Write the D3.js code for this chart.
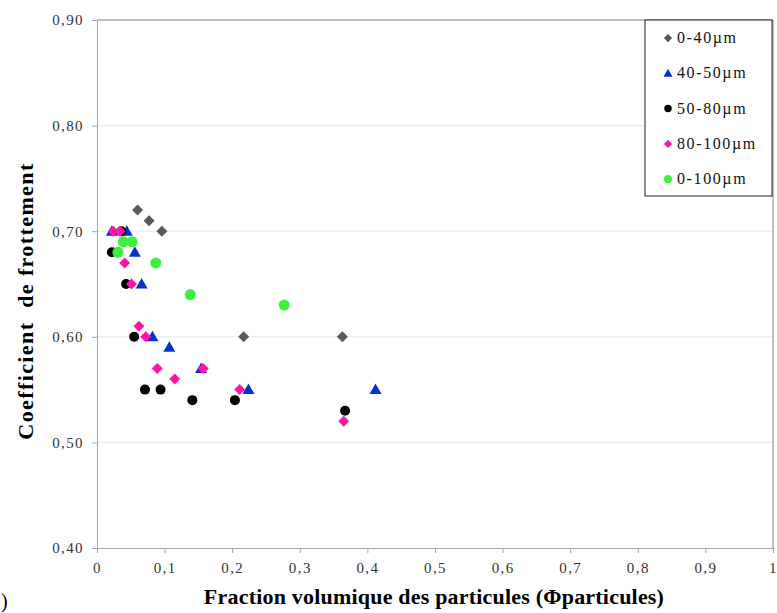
<!DOCTYPE html>
<html>
<head>
<meta charset="utf-8">
<script src="https://cdn.jsdelivr.net/npm/d3@7"></script>
<style>
  body { margin: 0; background: #fff; }
  svg text { font-family: 'Liberation Serif', 'Times New Roman', serif; }
</style>
</head>
<body>
<svg id="chart"></svg>
<script>
// series (x = fraction volumique, y = coefficient de frottement)
const names = ["0-40µm", "40-50µm", "50-80µm", "80-100µm", "0-100µm"];

const x040 = [0.060, 0.077, 0.096, 0.217, 0.363];
const y040 = [0.72, 0.71, 0.70, 0.60, 0.60];

const x4050 = [0.022, 0.044, 0.056, 0.066, 0.082, 0.107, 0.154, 0.224, 0.412];
const y4050 = [0.70, 0.70, 0.68, 0.65, 0.60, 0.59, 0.57, 0.55, 0.55];

const x5080 = [0.022, 0.036, 0.043, 0.055, 0.071, 0.094, 0.141, 0.204, 0.367];
const y5080 = [0.68, 0.70, 0.65, 0.60, 0.55, 0.55, 0.54, 0.54, 0.53];

const x80100 = [0.024, 0.034, 0.041, 0.051, 0.062, 0.072, 0.089, 0.115, 0.157, 0.211, 0.365];
const y80100 = [0.70, 0.70, 0.67, 0.65, 0.61, 0.60, 0.57, 0.56, 0.57, 0.55, 0.52];

const x0100 = [0.031, 0.039, 0.052, 0.087, 0.138, 0.277];
const y0100 = [0.68, 0.69, 0.69, 0.67, 0.64, 0.63];

const xTicks = [0, 0.1, 0.2, 0.3, 0.4, 0.5, 0.6, 0.7, 0.8, 0.9, 1];
const yTicks = [0.4, 0.5, 0.6, 0.7, 0.8, 0.9];

const W = 777, H = 613;
const serif = "'Liberation Serif', 'Times New Roman', serif";
const svg = d3.select("#chart").attr("width", W).attr("height", H);

const x = d3.scaleLinear().domain([0, 1]).range([97, 773]);
const y = d3.scaleLinear().domain([0.4, 0.9]).range([548, 20]);

const comma = d => d3.format(".2f")(d).replace(".", ",");
const commaX = d => (d === 0 || d === 1) ? String(d) : String(d).replace(".", ",");

// gridlines
svg.append("g")
    .selectAll("line")
    .data(yTicks.slice(1, -1))
    .enter()
    .append("line")
    .attr("x1", x(0)).attr("x2", x(1))
    .attr("y1", d => y(d)).attr("y2", d => y(d))
    .attr("stroke", "#e8e8e8");

// plot frame (top, right)
svg.append("path")
    .attr("d", `M${x(0)},${y(0.9)}H${x(1)}V${y(0.4)}`)
    .attr("fill", "none")
    .attr("stroke", "#7f7f7f");

// axes
const xAxis = svg.append("g")
    .attr("transform", `translate(0,${y(0.4)})`)
    .call(d3.axisBottom(x).tickValues(xTicks).tickFormat(commaX).tickSize(5).tickSizeOuter(0));
const yAxis = svg.append("g")
    .attr("transform", `translate(${x(0)},0)`)
    .call(d3.axisLeft(y).tickValues(yTicks).tickFormat(comma).tickSize(5).tickSizeOuter(0));

[xAxis, yAxis].forEach(a => {
    a.attr("font-family", serif).attr("font-size", 15);
    a.select(".domain").attr("stroke", "#a6a6a6");
    a.selectAll(".tick line").attr("stroke", "#a6a6a6");
    a.selectAll(".tick text")
        .attr("fill", "#333")
        .attr("letter-spacing", "1.4px");
});
xAxis.selectAll(".tick text").attr("dy", "0").attr("y", 25);
yAxis.selectAll(".tick text").attr("x", -13);

// axis titles
svg.append("text")
    .attr("x", 434)
    .attr("y", 604)
    .attr("text-anchor", "middle")
    .attr("font-family", serif)
    .attr("font-size", "22px")
    .attr("font-weight", "bold")
    .attr("letter-spacing", "0.2px")
    .text("Fraction volumique des particules (Φparticules)");

svg.append("text")
    .attr("transform", "translate(33,301) rotate(-90)")
    .attr("text-anchor", "middle")
    .attr("font-family", serif)
    .attr("font-size", "22px")
    .attr("font-weight", "bold")
    .attr("letter-spacing", "1.4px")
    .style("white-space", "pre")
    .text("Coefficient  de frottement");

// cut-off panel label (only its parenthesis shows)
svg.append("text")
    .attr("x", 1)
    .attr("y", 608)
    .attr("font-family", serif)
    .attr("font-size", "20px")
    .text(")");

// series styles
const series = [
    {name: names[0], xs: x040, ys: y040, shape: "diamond", color: "#595959", size: 5.5},
    {name: names[1], xs: x4050, ys: y4050, shape: "triangle", color: "#0033cc", size: 6},
    {name: names[2], xs: x5080, ys: y5080, shape: "circle", color: "#000000", size: 5},
    {name: names[3], xs: x80100, ys: y80100, shape: "diamond", color: "#ff14a8", size: 5.5},
    {name: names[4], xs: x0100, ys: y0100, shape: "circle", color: "#3ef03e", size: 5.5}
];

function marker(g, shape, color, r) {
    if (shape === "circle") {
        g.append("circle").attr("r", r).attr("fill", color);
    } else if (shape === "diamond") {
        g.append("path")
            .attr("d", `M0,${-r}L${r},0L0,${r}L${-r},0Z`)
            .attr("fill", color);
    } else {
        g.append("path")
            .attr("d", `M0,${-r}L${r},${r * 0.75}L${-r},${r * 0.75}Z`)
            .attr("fill", color);
    }
}

series.forEach(s => {
    const pts = s.xs.map((v, i) => [v, s.ys[i]]);
    const g = svg.append("g");
    pts.forEach(p => {
        const m = g.append("g").attr("transform", `translate(${x(p[0])},${y(p[1])})`);
        marker(m, s.shape, s.color, s.size);
    });
});

// legend
const legend = svg.append("g").attr("transform", "translate(645,20)");
legend.append("rect")
    .attr("width", 127)
    .attr("height", 176)
    .attr("fill", "#fff")
    .attr("stroke", "#222");

series.forEach((s, i) => {
    const row = legend.append("g").attr("transform", `translate(23,${18 + i * 35.3})`);
    marker(row, s.shape, s.color, s.size * 0.75);
    row.append("text")
        .attr("x", 9)
        .attr("y", 5)
        .attr("font-family", serif)
        .attr("font-size", "16px")
        .attr("letter-spacing", "1.6px")
        .attr("fill", "#111")
        .text(s.name);
});
</script>
</body>
</html>
